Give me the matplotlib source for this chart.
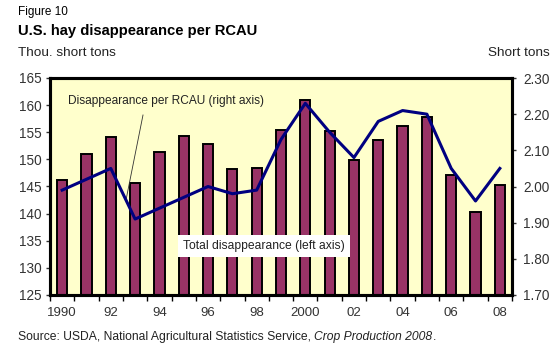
import matplotlib
matplotlib.use("Agg")
import matplotlib.pyplot as plt
import numpy as np

plt.rcParams['font.family'] = ['Liberation Sans', 'DejaVu Sans']

years = list(range(1990, 2009))
total = [146.2, 150.9, 154.1, 145.7, 151.3, 154.3, 152.8, 148.2, 148.5, 155.4,
         161.0, 155.3, 149.9, 153.5, 156.2, 157.8, 147.1, 140.3, 145.2]
per_rcau = [1.99, 2.02, 2.05, 1.91, 1.94, 1.97, 2.00, 1.98, 1.99, 2.13,
            2.23, 2.15, 2.08, 2.18, 2.21, 2.20, 2.05, 1.96, 2.05]
tick_labels = ['1990', '92', '94', '96', '98', '2000', '02', '04', '06', '08']

W, H = 560, 356
fig = plt.figure(figsize=(W / 100, H / 100), dpi=100)
ax = fig.add_axes([50 / W, (H - 295) / H, 462 / W, 217 / H])
ax.set_facecolor('#FFFFCC')

x = np.arange(len(years))
ax.bar(x, total, width=0.42, color='#993366', edgecolor='black', linewidth=1.4, zorder=2)
ax.set_ylim(125, 165)
ax.set_xlim(-0.5, len(years) - 0.5)
ax.set_yticks(np.arange(125, 166, 5))
ax.tick_params(axis='y', labelsize=9.8, direction='out', length=3, width=1, colors='#333333', pad=3)

# ticks between years, labels on every second year
ax.set_xticks(np.arange(-0.5, len(years), 1))
ax.set_xticklabels([])
ax.set_xticks(x[::2], minor=True)
ax.set_xticklabels(tick_labels, minor=True)
ax.tick_params(axis='x', which='major', direction='out', length=4, width=1)
ax.tick_params(axis='x', which='minor', length=0, labelsize=9.5, pad=9, colors='#333333')

for s in ax.spines.values():
    s.set_linewidth(2.2)

ax2 = ax.twinx()
ax2.plot(x, per_rcau, color='#000080', linewidth=2.2, zorder=3)
ax2.set_ylim(1.70, 2.30)
rt = np.arange(1.70, 2.31, 0.10)
ax2.set_yticks(rt)
ax2.set_yticklabels([f'{v:.2f}' for v in rt])
ax2.tick_params(axis='y', labelsize=9.8, direction='out', length=3, width=1, colors='#333333', pad=5)
for s in ax2.spines.values():
    s.set_linewidth(2.2)

def fx(px):
    return (px - 50) / 462

def fy(py):
    return (295 - py) / 217

ax.text(fx(68), fy(101), 'Disappearance per RCAU (right axis)', transform=ax.transAxes,
        fontsize=8.6, color='#222222', va='center')
ax.plot([fx(143), fx(126)], [fy(115), fy(200)],
        transform=ax.transAxes, color='#333333', linewidth=0.6, zorder=4)
ax.text(fx(183), fy(246), 'Total disappearance (left axis)', transform=ax.transAxes,
        fontsize=8.7, color='#222222', va='center', zorder=5,
        bbox=dict(facecolor='white', edgecolor='none', pad=3.5))

fig.text(18 / W, 1 - 12 / H, 'Figure 10', fontsize=8.5, va='center')
fig.text(18 / W, 1 - 31 / H, 'U.S. hay disappearance per RCAU', fontsize=10.6,
         fontweight='bold', va='center')
fig.text(18 / W, 1 - 53 / H, 'Thou. short tons', fontsize=9.7, va='center', color='#222222')
fig.text(550 / W, 1 - 53 / H, 'Short tons', fontsize=9.7, va='center', ha='right', color='#222222')

# source line: plain + italic + plain pieces placed end to end
parts = [('Source: USDA, National Agricultural Statistics Service, ', 'normal'),
         ('Crop Production 2008', 'italic'), ('.', 'normal')]
xpos = 18
for txt, st in parts:
    t = fig.text(xpos / W, 1 - 337 / H, txt, fontsize=8.7, va='center', style=st, color='#222222')
    fig.canvas.draw()
    xpos = t.get_window_extent().x1

fig.savefig('out.png', dpi=100)
